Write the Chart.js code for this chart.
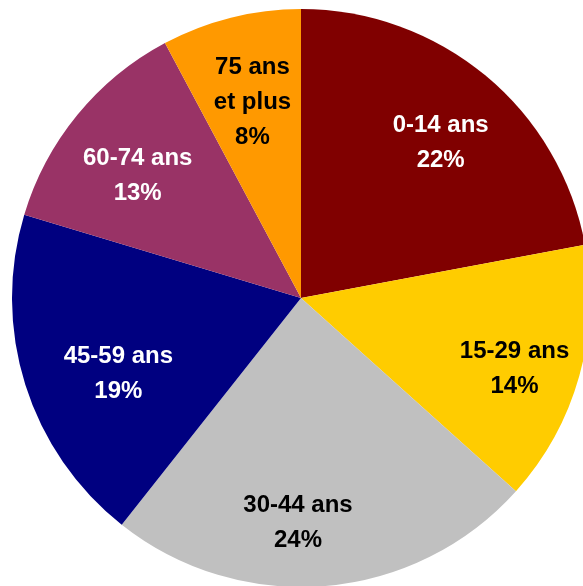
<!DOCTYPE html>
<html>
<head>
<meta charset="utf-8">
<script src="https://cdn.jsdelivr.net/npm/chart.js@4"></script>
<style>
    html, body { margin: 0; padding: 0; background: #fff; overflow: hidden; }
    #wrap { width: 610px; height: 600px; }
</style>
</head>
<body>
<div id="wrap"><canvas id="grafico" width="610" height="600"></canvas></div>
<script>
const categorias = ['0-14 ans', '15-29 ans', '30-44 ans', '45-59 ans', '60-74 ans', '75 ans\net plus'];
const valores = [22.05, 14.6, 24.0, 19.0, 12.55, 7.8];
// pourcentages affichés
const rotulos = ['22%', '14%', '24%', '19%', '13%', '8%'];
const cores = ['#800000', '#FFCC00', '#C0C0C0', '#000080', '#993366', '#FF9900'];
const coresTexto = ['#ffffff', '#000000', '#000000', '#ffffff', '#ffffff', '#000000'];

// décalages des étiquettes (px)
const ajustes = [[4, 8], [9, 14], [-21, 13], [20, 12], [1, 13], [3, 10]];

// etiquetas dentro das fatias
const etiquetas = {
    id: 'etiquetas',
    afterDatasetsDraw(chart) {
        const ctx = chart.ctx;
        const meta = chart.getDatasetMeta(0);
        ctx.save();
        ctx.font = 'bold 24px "Liberation Sans", Arial, sans-serif';
        ctx.textAlign = 'center';
        ctx.textBaseline = 'middle';
        meta.data.forEach((arc, i) => {
            const ang = (arc.startAngle + arc.endAngle) / 2;
            const r = arc.outerRadius * 0.735;
            const x = arc.x + Math.cos(ang) * r + ajustes[i][0];
            const y = arc.y + Math.sin(ang) * r + ajustes[i][1];
            const linhas = categorias[i].split('\n');
            linhas.push(rotulos[i]);
            const h = 35;
            const y0 = y - (linhas.length - 1) * h / 2;
            ctx.fillStyle = coresTexto[i];
            linhas.forEach((t, j) => ctx.fillText(t, x, y0 + j * h));
        });
        ctx.restore();
    }
};

new Chart(document.getElementById('grafico').getContext('2d'), {
    type: 'pie',
    data: {
        labels: categorias,
        datasets: [{
            data: valores,
            backgroundColor: cores,
            borderWidth: 0
        }]
    },
    options: {
        responsive: false,
        animation: false,
        layout: { padding: { left: 12, right: 20, top: 9, bottom: 13 } },
        plugins: {
            legend: { display: false },
            tooltip: { enabled: false }
        }
    },
    plugins: [etiquetas]
});
</script>
</body>
</html>
